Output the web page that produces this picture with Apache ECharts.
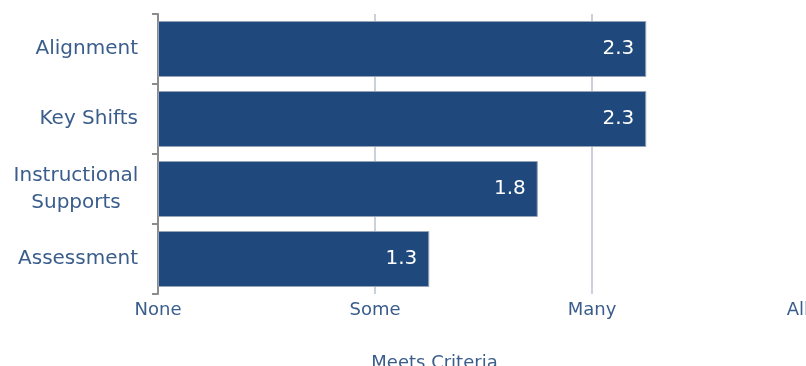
<!DOCTYPE html>
<html>
<head>
<meta charset="utf-8">
<script src="https://cdn.jsdelivr.net/npm/echarts@6/dist/echarts.min.js"></script>
<style>
    html, body { margin: 0; padding: 0; background: #fff; }
    #chart { width: 806px; height: 366px; }
</style>
</head>
<body>
<div id="chart"></div>
<script>
// 数据
var categories = ['Alignment', 'Key Shifts', 'Instructional\nSupports', 'Assessment'];
var scores = [2.25, 2.25, 1.75, 1.25];
var levelLabels = ['None', 'Some', 'Many', 'All'];

var textColor = '#3a5d8c';
var myChart = echarts.init(document.getElementById('chart'));

var option = {
    animation: false,
    grid: {
        left: 158,
        right: -3,
        top: 14,
        bottom: 72,
        containLabel: false,
        outerBoundsMode: 'none'
    },
    xAxis: {
        type: 'value',
        min: 0,
        max: 3,
        interval: 1,
        name: 'Meets Criteria',
        nameLocation: 'middle',
        nameGap: 60,
        nameTextStyle: {
            color: textColor,
            fontFamily: 'DejaVu Sans',
            fontSize: 18,
            padding: [0, 98, 0, 0]
        },
        axisLine: { show: false },
        axisTick: { show: false },
        splitLine: { lineStyle: { color: '#b8c2d0', width: 1.5 } },
        axisLabel: {
            color: textColor,
            fontFamily: 'DejaVu Sans',
            fontSize: 18,
            margin: 7,
            alignMaxLabel: 'right',
            formatter: function (v) { return levelLabels[v]; }
        }
    },
    yAxis: {
        type: 'category',
        inverse: true,
        data: categories,
        axisLine: { show: true, lineStyle: { color: '#8c8c8c', width: 2 } },
        axisTick: { show: true, length: 6, lineStyle: { color: '#8c8c8c', width: 2 } },
        axisLabel: {
            color: textColor,
            fontFamily: 'DejaVu Sans',
            fontSize: 20,
            lineHeight: 27,
            margin: 20,
            formatter: function (v) {
                if (v.indexOf('\n') < 0) return v;
                // 多行标签居中
                return v.split('\n').map(function (s) { return '{m|' + s + '}'; }).join('\n');
            },
            rich: {
                m: {
                    width: 124,
                    align: 'center',
                    color: textColor,
                    fontFamily: 'DejaVu Sans',
                    fontSize: 20,
                    lineHeight: 27
                }
            }
        }
    },
    series: [{
        type: 'bar',
        data: scores,
        barCategoryGap: '20%',
        itemStyle: {
            color: '#1f497d',
            borderColor: '#97a3b6',
            borderWidth: 1
        },
        label: {
            show: true,
            position: 'insideRight',
            distance: 12,
            color: '#ffffff',
            fontFamily: 'DejaVu Sans',
            fontSize: 20,
            formatter: function (p) { return p.value.toFixed(1); }
        }
    }]
};

myChart.setOption(option);
</script>
</body>
</html>
